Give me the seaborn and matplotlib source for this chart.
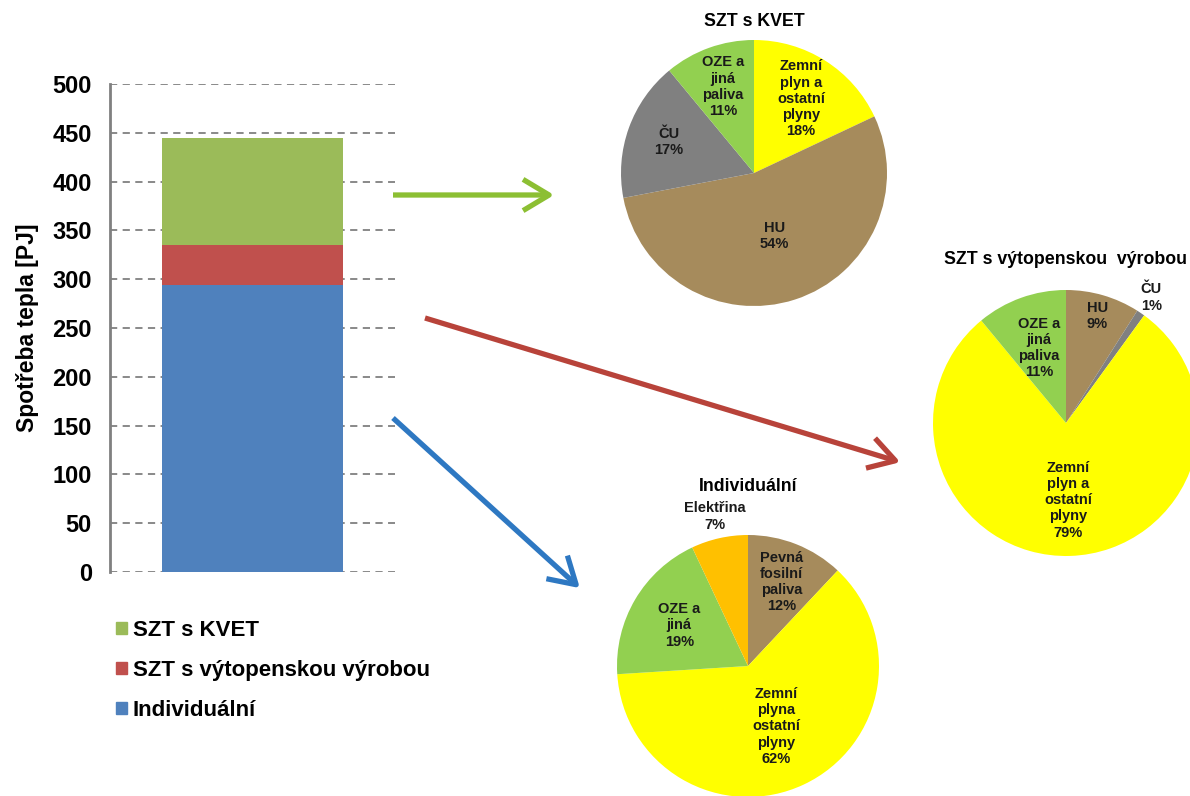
import numpy as np
import pandas as pd
import matplotlib
matplotlib.use("Agg")
import matplotlib.pyplot as plt
import seaborn as sns
from matplotlib.patches import FancyArrowPatch, Patch

# ---------------------------------------------------------------
# DATA
# ---------------------------------------------------------------
bar_series = ["Individuální", "SZT s výtopenskou výrobou", "SZT s KVET"]
bar_values = [294, 41, 110]          # PJ, stacked bottom -> top
bar_colors = ["#4F81BD", "#C0504D", "#9BBB59"]
y_ticks = [0, 50, 100, 150, 200, 250, 300, 350, 400, 450, 500]

kvet_labels = ["Zemní\nplyn a\nostatní\nplyny", "HU", "ČU", "OZE a\njiná\npaliva"]
kvet_pct = [18, 54, 17, 11]
kvet_colors = ["#FFFF00", "#A68B5C", "#808080", "#92D050"]

vyt_labels = ["HU", "ČU", "Zemní\nplyn a\nostatní\nplyny", "OZE a\njiná\npaliva"]
vyt_pct = [9, 1, 79, 11]
vyt_colors = ["#A68B5C", "#808080", "#FFFF00", "#92D050"]

ind_labels = ["Pevná\nfosilní\npaliva", "Zemní\nplyna\nostatní\nplyny", "OZE a\njiná", "Elektřina"]
ind_pct = [12, 62, 19, 7]
ind_colors = ["#A68B5C", "#FFFF00", "#92D050", "#FFC000"]

# ---------------------------------------------------------------
# FIGURE
# ---------------------------------------------------------------
sns.set_theme(style="white", rc={'text.color': 'black', 'axes.labelcolor': 'black',
                                 'ytick.color': 'black'})
plt.rcParams['font.family'] = ['Liberation Sans', 'DejaVu Sans']

W, H = 1190, 796
fig = plt.figure(figsize=(W / 100, H / 100), dpi=100)


def px_axes(x0, y0, x1, y1):
    """axes from pixel box (top-left origin)"""
    return fig.add_axes([x0 / W, 1 - y1 / H, (x1 - x0) / W, (y1 - y0) / H])


# stacked bar ----------------------------------------------------
ax = px_axes(110, 84, 395, 572)
df = pd.DataFrame({"serie": bar_series, "value": bar_values})
df["top"] = np.cumsum(df["value"])
# draw from the tallest cumulative down so the lower segments cover it
for i in reversed(range(len(df))):
    sns.barplot(x=["x"], y=[df["top"].iloc[i]], color=bar_colors[i],
                width=0.635, saturation=1, linewidth=0, ax=ax, zorder=2)
ax.set_xlim(-0.5, 0.5)
ax.set_ylim(0, 500)
ax.set_yticks(y_ticks)
ax.set_xticks([])
ax.set_xlabel("")
ax.set_ylabel("Spotřeba tepla [PJ]", fontsize=16.5, fontweight='bold', labelpad=10)
ax.tick_params(axis='y', labelsize=17, length=0, pad=13)
for lab in ax.get_yticklabels():
    lab.set_fontweight('bold')
ax.grid(axis='y', linestyle=(0, (4, 3)), color='#808080', linewidth=1.3, zorder=0)
ax.set_axisbelow(True)
sns.despine(ax=ax, top=True, right=True, bottom=True)
ax.spines['left'].set_color('#808080')
ax.spines['left'].set_linewidth(2)

handles = [Patch(color=c) for c in reversed(bar_colors)]
fig.legend(handles, list(reversed(bar_series)), loc='upper left',
           bbox_to_anchor=(96 / W, 1 - 600 / H), frameon=False,
           prop={'size': 16, 'weight': 'bold'}, handlelength=0.5, handleheight=0.5,
           handletextpad=0.25, labelspacing=0.85)


# pies -----------------------------------------------------------
def draw_pie(cx, cy, r, pct, colors, labels, title, title_r, label_r):
    a = px_axes(cx - r, cy - r, cx + r, cy + r)
    wedges, _ = a.pie(pct, colors=colors, startangle=90, counterclock=False,
                      wedgeprops={'linewidth': 0})
    for w, lab, p, d in zip(wedges, labels, pct, label_r):
        ang = np.deg2rad((w.theta1 + w.theta2) / 2)
        a.text(d * np.cos(ang), d * np.sin(ang), f"{lab}\n{p}%", ha='center',
               va='center', fontsize=10.5, fontweight='bold', color='#1a1a1a',
               linespacing=1.2)
    a.text(0, title_r, title, ha='center', va='center', fontsize=12.8,
           fontweight='bold')
    a.set_xlim(-1, 1)
    a.set_ylim(-1, 1)
    a.set_aspect('equal')
    a.axis('off')
    return a


draw_pie(754, 173, 133, kvet_pct, kvet_colors, kvet_labels, "SZT s KVET", 1.14,
         [0.66, 0.5, 0.68, 0.69])
draw_pie(1066, 423, 133, vyt_pct, vyt_colors, vyt_labels,
         "SZT s výtopenskou  výrobou", 1.23, [0.84, 1.14, 0.58, 0.6])
draw_pie(748, 666, 131, ind_pct, ind_colors, ind_labels, "Individuální", 1.37,
         [0.69, 0.51, 0.61, 1.17])

# arrows ---------------------------------------------------------
arrows = [((393, 195), (557, 195), "#8CBF33"),
          ((425, 318), (903, 463), "#B8433A"),
          ((393, 418), (582, 590), "#2E78C2")]
for (x0, y0), (x1, y1), col in arrows:
    fig.add_artist(FancyArrowPatch((x0 / W, 1 - y0 / H), (x1 / W, 1 - y1 / H),
                                   transform=fig.transFigure,
                                   arrowstyle='->,head_length=0.75,head_width=0.45',
                                   mutation_scale=25, color=col, linewidth=3.8,
                                   shrinkA=0, shrinkB=2,
                                   capstyle='butt', joinstyle='round'))

fig.savefig("out.png", dpi=100)
